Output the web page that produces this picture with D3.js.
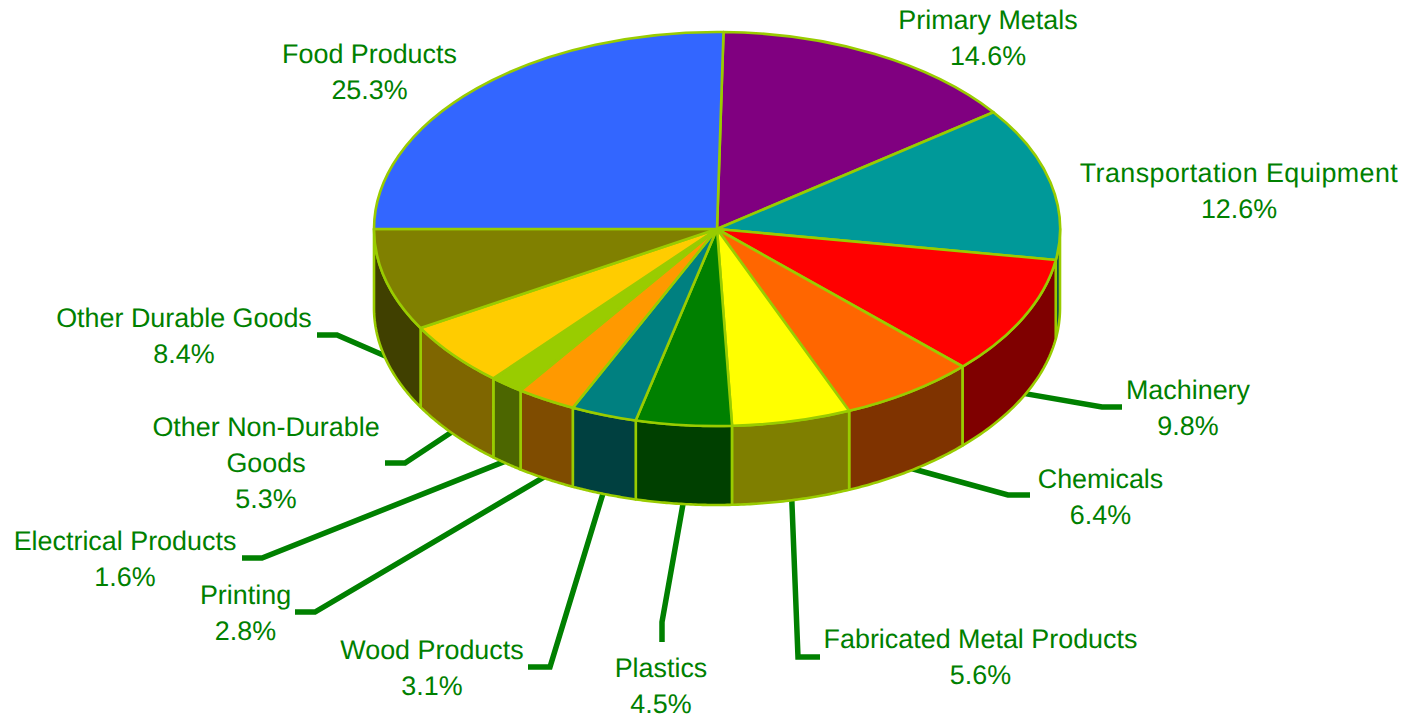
<!DOCTYPE html>
<html>
<head>
<meta charset="utf-8">
<script src="https://cdn.jsdelivr.net/npm/d3@7/dist/d3.min.js"></script>
<style>
html,body{margin:0;padding:0;background:#fff;overflow:hidden}
svg{display:block}
text{font-family:"Liberation Sans",Arial,sans-serif;font-size:26.9px;fill:#008000;text-anchor:middle;text-rendering:geometricPrecision}
</style>
</head>
<body>
<svg id="chart" width="1406" height="718"></svg>
<script>
const categories = ["Primary Metals","Transportation Equipment","Machinery","Chemicals","Fabricated Metal Products","Plastics","Wood Products","Printing","Electrical Products","Other Non-Durable Goods","Other Durable Goods","Food Products"];
const values = [14.6,12.6,9.8,6.4,5.6,4.5,3.1,2.8,1.6,5.3,8.4,25.3];
const topColors = ["#800080","#009999","#ff0000","#ff6600","#ffff00","#008000","#008080","#ff9900","#99cc00","#ffcc00","#808000","#3366ff"];
const sideColors = ["#400040","#004c4c","#7f0000","#7f3300","#7f7f00","#004000","#004040","#7f4c00","#4c6600","#7f6600","#404000","#19337f"];

// label layout: [centre x, first baseline, wrapped lines]
const labelX = [988,1239,1188,1100.5,980.5,661,432,245.5,125,266,184,369.5];
const labelY = [29,182,398.5,487.5,648,677,659,603.5,550,436,327,63];
const labelLines = [["Primary Metals"],["Transportation Equipment"],["Machinery"],["Chemicals"],["Fabricated Metal Products"],["Plastics"],["Wood Products"],["Printing"],["Electrical Products"],["Other Non-Durable","Goods"],["Other Durable Goods"],["Food Products"]];
// leader layout: elbow and end of each leader, null = no leader
const leaders = [null,null,[[1102,407],[1122,407]],[[1008,495],[1030,495]],[[798,657],[820,657]],[[662,622],[662,642]],[[550,667],[528,667]],[[315,612],[295,612]],[[262,558],[242,558]],[[405,463],[385,463]],[[337,335],[317,335]],null];

const cx = 717, cy = 229, rx = 343, ry = 197, depth = 79;
const startAngle = 1.1 * Math.PI / 180;
const svg = d3.select("#chart");

const pie = d3.pie().sort(null).value(d => d).startAngle(startAngle).endAngle(startAngle + 2 * Math.PI);
const arcs = pie(values);
const arc = d3.arc().innerRadius(0).outerRadius(1);
const px = a => cx + rx * Math.sin(a);
const py = a => cy - ry * Math.cos(a);
const line = d3.line();

// leaders, underneath the pie
const leaderG = svg.append("g");
arcs.forEach((d, i) => {
  if (!leaders[i]) return;
  const m = (d.startAngle + d.endAngle) / 2;
  leaderG.append("path")
    .attr("d", line([[px(m), py(m) + depth - 3], ...leaders[i]]))
    .attr("fill", "none").attr("stroke", "#008000").attr("stroke-width", 5.5).attr("stroke-linejoin", "miter");
});

// walls: only the part of each slice facing the viewer
const wallG = svg.append("g");
arcs.forEach((d, i) => {
  const a0 = Math.max(d.startAngle, Math.PI / 2), a1 = Math.min(d.endAngle, 3 * Math.PI / 2);
  if (a1 <= a0) return;
  const steps = d3.range(0, 41).map(k => a0 + (a1 - a0) * k / 40);
  const pts = steps.map(a => [px(a), py(a)]).concat(steps.slice().reverse().map(a => [px(a), py(a) + depth]));
  wallG.append("path")
    .attr("d", line(pts) + "Z")
    .attr("fill", sideColors[i]).attr("stroke", "#99cc00").attr("stroke-width", 2.6).attr("stroke-linejoin", "round");
});

// top faces
const topG = svg.append("g").attr("transform", `translate(${cx},${cy}) scale(${rx},${ry})`);
topG.selectAll("path").data(arcs).join("path")
  .attr("d", arc)
  .attr("fill", (d, i) => topColors[i])
  .attr("stroke", "#99cc00").attr("stroke-width", 2.6)
  .attr("vector-effect", "non-scaling-stroke").attr("stroke-linejoin", "round");

// labels
const labelG = svg.append("g");
categories.forEach((c, i) => {
  const lines = labelLines[i].concat([values[i].toFixed(1) + "%"]);
  lines.forEach((t, k) => {
    const el = labelG.append("text").attr("x", labelX[i]).attr("y", labelY[i] + k * 36).text(t);
    if (t === "Transportation Equipment") el.style("letter-spacing", "0.42px");
  });
});
</script>
</body>
</html>
